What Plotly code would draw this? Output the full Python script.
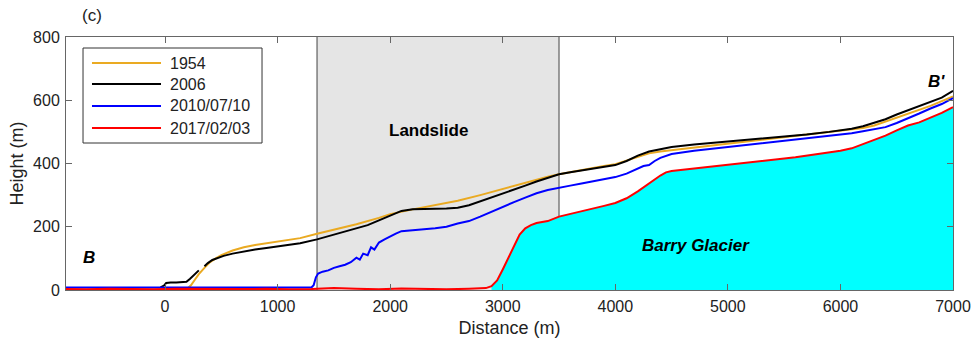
import plotly.graph_objects as go

# ---------------- data ----------------
x_1954 = [200, 230, 260, 300, 350, 400, 450, 500, 600, 700, 800, 900, 1000, 1100, 1200, 1350, 1500,
          1700, 1900, 2000, 2200, 2400, 2600, 2800, 3000, 3200, 3400, 3500, 3700, 3900, 4000, 4100,
          4200, 4300, 4400, 4600, 4800, 5000, 5200, 5400, 5600, 5800, 6000, 6200, 6300, 6400, 6600,
          6800, 7000]
h_1954 = [5, 15, 30, 50, 70, 88, 100, 110, 125, 135, 142, 148, 153, 158, 164, 178, 190,
          208, 228, 240, 255, 268, 282, 300, 320, 340, 358, 366, 380, 392, 398, 410,
          422, 432, 438, 446, 454, 462, 470, 478, 486, 494, 502, 512, 520, 532, 558,
          582, 612]

x_2006 = [-40, -10, 10, 50, 100, 150, 190, 220, 260, 300, 320, 350, 380, 420, 470, 520, 600, 700,
          800, 900, 1000, 1100, 1200, 1350, 1500, 1650, 1800, 1900, 2000, 2050, 2100, 2200, 2300,
          2400, 2500, 2600, 2700, 2800, 2900, 3000, 3100, 3200, 3300, 3400, 3500, 3600, 3700, 3800,
          3900, 4000, 4100, 4200, 4300, 4400, 4500, 4700, 4900, 5100, 5300, 5500, 5700, 5900, 6100,
          6200, 6300, 6400, 6500, 6600, 6700, 6800, 6900, 7000]
h_2006 = [8, 14, 22, 24, 24, 25, 26, 35, 50, 62, None, 75, 85, 95, 102, 108, 115, 122,
          128, 133, 138, 142, 148, 160, 175, 190, 205, 220, 235, 245, 250, 255, 257,
          257, 258, 260, 268, 280, 292, 305, 318, 330, 343, 355, 366, 372, 378, 383,
          388, 395, 408, 425, 438, 446, 452, 460, 466, 472, 478, 485, 492, 500, 510,
          518, 528, 540, 555, 568, 582, 595, 608, 630]

x_2010 = [-900, -600, -300, 0, 300, 600, 900, 1200, 1300, 1320, 1340, 1360, 1400, 1450, 1500, 1550,
          1600, 1650, 1700, 1730, 1760, 1800, 1830, 1860, 1900, 1950, 2000, 2050, 2100, 2200, 2300,
          2400, 2500, 2600, 2700, 2800, 2900, 3000, 3100, 3200, 3300, 3400, 3500, 3600, 3700, 3800,
          3900, 4000, 4100, 4200, 4250, 4300, 4350, 4400, 4500, 4700, 4900, 5100, 5300, 5500, 5700,
          5900, 6100, 6200, 6300, 6400, 6500, 6600, 6700, 6800, 6900, 7000]
h_2010 = [8, 7, 8, 8, 7, 8, 8, 7, 8, 15, 40, 52, 58, 62, 70, 75,
          80, 88, 102, 96, 115, 110, 135, 128, 150, 160, 170, 178, 186, 190, 192,
          195, 200, 210, 218, 232, 248, 262, 278, 292, 306, 316, 322, 330, 337, 343,
          350, 357, 368, 385, 392, 395, 408, 418, 430, 440, 448, 455, 462, 470, 478,
          487, 496, 502, 508, 515, 528, 542, 558, 574, 588, 607]

x_2017 = [-900, -700, -500, -300, -100, 100, 300, 500, 700, 900, 1100, 1300, 1500, 1700, 1900, 2100,
          2300, 2500, 2700, 2850, 2900, 2950, 3000, 3050, 3100, 3150, 3200, 3250, 3300, 3400, 3500,
          3600, 3700, 3800, 3900, 4000, 4100, 4200, 4300, 4400, 4450, 4500, 4600, 4800, 5000, 5200,
          5400, 5600, 5800, 6000, 6100, 6200, 6300, 6400, 6500, 6600, 6700, 6800, 6900, 7000]
h_2017 = [3, 2, 4, 3, 2, 4, 3, 2, 3, 4, 2, 3, 6, 4, 2, 5,
          3, 2, 4, 6, 12, 30, 65, 100, 140, 175, 195, 205, 212, 218, 232,
          240, 250, 258, 266, 275, 290, 312, 338, 362, 372, 376, 380, 388, 395, 404,
          412, 420, 430, 440, 448, 462, 475, 488, 505, 520, 530, 545, 560, 578]

series_names = ["1954", "2006", "2010/07/10", "2017/02/03"]
series_colors = ["#EAAA22", "#000000", "#0000FF", "#FF0000"]

x_ticks = [0, 1000, 2000, 3000, 4000, 5000, 6000, 7000]
y_ticks = [0, 200, 400, 600, 800]
x_range = [-880, 7000]
y_range = [0, 800]
landslide = [1350, 3500]
glacier_start = 2900

FONT = "Liberation Sans, Arial, Helvetica, sans-serif"
TXT = "#222222"

fig = go.Figure()

# glacier fill under 2017 profile
gx = [x for x in x_2017 if x >= glacier_start]
gh = [h for x, h in zip(x_2017, h_2017) if x >= glacier_start]
fig.add_trace(go.Scatter(x=gx, y=gh, mode="lines", fill="tozeroy",
                         fillcolor="#00FFFF", line=dict(width=0, color="#00FFFF"),
                         showlegend=False, hoverinfo="skip"))

for xs, hs, nm, col in zip([x_1954, x_2006, x_2010, x_2017],
                           [h_1954, h_2006, h_2010, h_2017],
                           series_names, series_colors):
    fig.add_trace(go.Scatter(x=xs, y=hs, mode="lines", name=nm, showlegend=False,
                             line=dict(color=col, width=2), connectgaps=False))

# landslide zone
fig.add_shape(type="rect", xref="x", yref="paper", x0=landslide[0], x1=landslide[1], y0=0, y1=1,
              fillcolor="#E5E5E5", line=dict(width=0), layer="below")
for xv in landslide:
    fig.add_shape(type="line", xref="x", yref="paper", x0=xv, x1=xv, y0=0, y1=1,
                  line=dict(color="#444444", width=1), layer="below")

# manual legend (long line samples as in the original)
fig.add_shape(type="rect", xref="paper", yref="paper", x0=0.0192, x1=0.221, y0=0.581, y1=0.9565,
              fillcolor="white", line=dict(color="#333333", width=1), layer="above")
leg_y = [0.8972, 0.8142, 0.7273, 0.6403]
for yy, nm, col in zip(leg_y, series_names, series_colors):
    fig.add_shape(type="line", xref="paper", yref="paper", x0=0.0293, x1=0.1071, y0=yy, y1=yy,
                  line=dict(color=col, width=2), layer="above")
    fig.add_annotation(xref="paper", yref="paper", x=0.115, y=yy, text=nm, showarrow=False,
                       xanchor="left", yanchor="middle",
                       font=dict(family=FONT, size=16, color=TXT))

ann_font = dict(family=FONT, size=17, color="black")
fig.add_annotation(x=2340, y=505, text="<b>Landslide</b>", showarrow=False, font=ann_font)
fig.add_annotation(x=4720, y=142, text="<b><i>Barry Glacier</i></b>", showarrow=False, font=ann_font)
fig.add_annotation(x=-680, y=104, text="<b><i>B</i></b>", showarrow=False, font=ann_font)
fig.add_annotation(x=6850, y=660, text="<b><i>B'</i></b>", showarrow=False, font=ann_font)
fig.add_annotation(xref="paper", yref="paper", x=0.0293, y=1.085, text="(c)", showarrow=False,
                   xanchor="center", yanchor="middle",
                   font=dict(family=FONT, size=17, color=TXT))

axis_common = dict(showline=True, linecolor="#666666", linewidth=1, mirror="ticks",
                   ticks="inside", ticklen=6, tickcolor="#666666", showgrid=False, zeroline=False,
                   automargin=False, ticklabeloverflow="allow",
                   tickfont=dict(family=FONT, size=16, color=TXT))

fig.update_layout(
    width=972, height=338,
    margin=dict(l=66, r=19, t=37, b=48),
    paper_bgcolor="white", plot_bgcolor="white",
    showlegend=False,
    xaxis=dict(range=x_range, tickvals=x_ticks, ticklabelstandoff=2,
               title=dict(text="Distance (m)", font=dict(family=FONT, size=18, color=TXT),
                          standoff=8),
               **axis_common),
    yaxis=dict(range=y_range, tickvals=y_ticks, ticklabelstandoff=2,
               title=dict(text="Height (m)", font=dict(family=FONT, size=18, color=TXT),
                          standoff=4),
               **axis_common),
    font=dict(family=FONT),
)

# remove the browser's default 8px page margin so the figure fills the 972x338 window
fig.write_html("out.html", config={"displayModeBar": False},
               post_script="document.body.style.margin='0';")
